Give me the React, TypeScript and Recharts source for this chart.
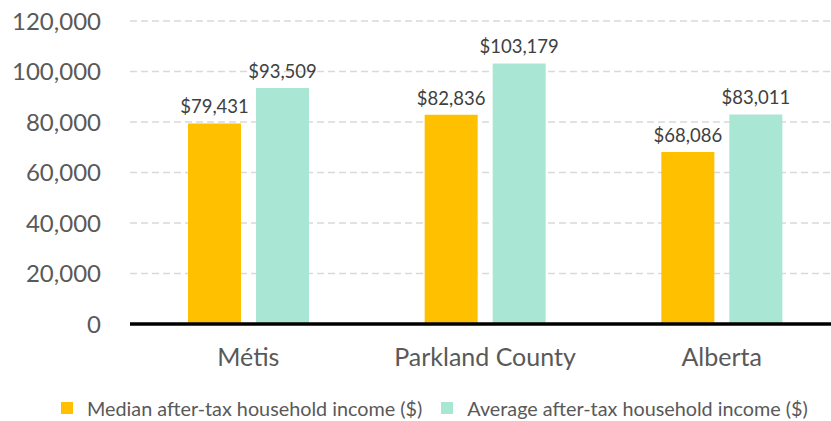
import { BarChart, Bar, XAxis, YAxis, CartesianGrid, Legend, LabelList } from 'recharts';

const regions = ['Métis', 'Parkland County', 'Alberta'];
const medianIncome = [79431, 82836, 68086];
const averageIncome = [93509, 103179, 83011];
const yTicks = [0, 20000, 40000, 60000, 80000, 100000, 120000];

const MEDIAN_COLOR = '#FFC000';
const AVERAGE_COLOR = '#A9E6D3';

const data = regions.map((region, i) => ({
  region,
  median: medianIncome[i],
  average: averageIncome[i],
}));

const seriesNames: Record<string, string> = {
  median: 'Median after-tax household income ($)',
  average: 'Average after-tax household income ($)',
};

const fmtMoney = (v: number) => `$${v.toLocaleString('en-US')}`;

function LegendContent() {
  const items = [
    { key: 'median', color: MEDIAN_COLOR },
    { key: 'average', color: AVERAGE_COLOR },
  ];
  return (
    <div style={{ display: 'flex', alignItems: 'center', height: 26, paddingLeft: 61 }}>
      {items.map((it, i) => (
        <div key={it.key} style={{ display: 'flex', alignItems: 'center', marginLeft: i === 0 ? 0 : 19 }}>
          <span style={{ width: 12, height: 12, background: it.color, display: 'inline-block' }} />
          <span style={{ marginLeft: 14, fontSize: 19.8, color: '#595959', whiteSpace: 'nowrap' }}>
            {seriesNames[it.key]}
          </span>
        </div>
      ))}
    </div>
  );
}

export default function App() {
  return (
    <div style={{ position: 'absolute', left: 0, top: 0, width: 831, height: 421, overflow: 'hidden', background: '#fff' }}>
      <BarChart
        width={842}
        height={421}
        data={data}
        margin={{ top: 21, right: 2, left: 0, bottom: 0 }}
        barSize={53}
        barGap={15}
        style={{ fontFamily: 'Lato, sans-serif' }}
      >
        <CartesianGrid vertical={false} stroke="#D9D9D9" strokeWidth={1.5} strokeDasharray="7 4" />
        <XAxis
          dataKey="region"
          height={71}
          tickSize={0}
          tickLine={false}
          tickMargin={24}
          axisLine={{ stroke: '#000', strokeWidth: 3.5 }}
          tick={{ fontSize: 25, fill: '#595959' }}
        />
        <YAxis
          width={130}
          domain={[0, 120000]}
          ticks={yTicks}
          tickSize={0}
          tickLine={false}
          tickMargin={29}
          axisLine={false}
          tick={{ fontSize: 24, fill: '#595959' }}
          tickFormatter={(v: number) => v.toLocaleString('en-US')}
        />
        <Legend verticalAlign="bottom" content={() => <LegendContent />} />
        <Bar dataKey="median" name={seriesNames.median} fill={MEDIAN_COLOR} isAnimationActive={false}>
          <LabelList dataKey="median" position="top" offset={10} formatter={(v: any) => fmtMoney(Number(v))} style={{ fontSize: 18.5, fill: '#404040' }} />
        </Bar>
        <Bar dataKey="average" name={seriesNames.average} fill={AVERAGE_COLOR} isAnimationActive={false}>
          <LabelList dataKey="average" position="top" offset={10} formatter={(v: any) => fmtMoney(Number(v))} style={{ fontSize: 18.5, fill: '#404040' }} />
        </Bar>
      </BarChart>
    </div>
  );
}
